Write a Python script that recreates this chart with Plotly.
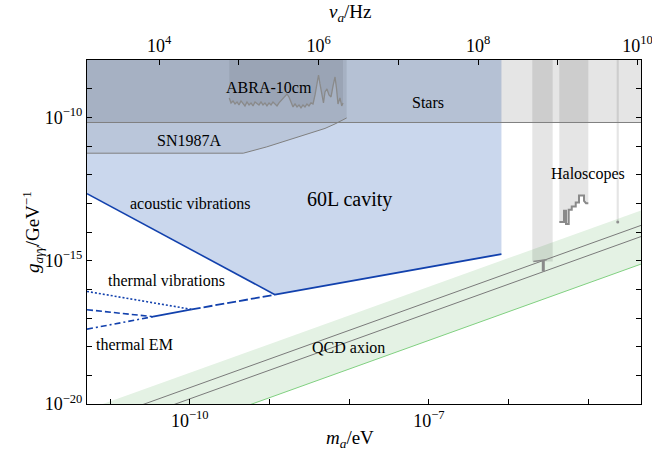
import plotly.graph_objects as go

FONT = "Liberation Serif"

# ---------------- axes (log10 units) ----------------
x_range_log = [-11.29, -4.339]          # m_a / eV
y_range_log = [-20.0, -8.0]             # g / GeV^-1
hz_per_ev_log = 14.3834                 # log10(2.418e14 Hz/eV)

x_tick_exps = [-11, -10, -9, -8, -7, -6, -5]
x_tick_text = ["", "10<sup>−10</sup>", "", "", "10<sup>−7</sup>", "", ""]
top_tick_exps = [4, 5, 6, 7, 8, 9, 10]
top_tick_text = ["10<sup>4</sup>", "", "10<sup>6</sup>", "", "10<sup>8</sup>", "", "10<sup>10</sup>"]
y_tick_exps = [-20, -19, -18, -17, -16, -15, -14, -13, -12, -11, -10, -9, -8]
y_tick_text = ["10<sup>−20</sup>", "", "", "", "", "10<sup>−15</sup>", "", "", "", "", "10<sup>−10</sup>", "", ""]

# ---------------- data (log10 m_a [eV], log10 g [GeV^-1]) ----------------
stars_log_g = -10.18

sn_log_m = [-11.29, -9.329, -9.035, -8.743, -8.492, -8.304, -8.178, -8.032]
sn_log_g = [-11.251, -11.251, -11.031, -10.770, -10.544, -10.387, -10.230, -10.021]

abra_log_m = [-9.505, -9.483, -9.458, -9.433, -9.408, -9.383, -9.358, -9.333, -9.308, -9.283,
              -9.257, -9.232, -9.207, -9.182, -9.157, -9.132, -9.107, -9.082, -9.057, -9.032,
              -9.006, -8.981, -8.956, -8.931, -8.906, -8.881, -8.856, -8.831, -8.806, -8.781,
              -8.756, -8.730, -8.705, -8.680, -8.655, -8.630, -8.605, -8.580, -8.555, -8.530,
              -8.505, -8.480, -8.454, -8.429, -8.404, -8.385, -8.367, -8.341, -8.323, -8.304,
              -8.279, -8.254, -8.228, -8.203, -8.178, -8.160, -8.141, -8.116, -8.094, -8.078]
abra_log_g = [-9.324, -9.498, -9.429, -9.533, -9.463, -9.568, -9.429, -9.533, -9.603, -9.463,
              -9.568, -9.498, -9.603, -9.463, -9.533, -9.568, -9.463, -9.568, -9.498, -9.603,
              -9.498, -9.568, -9.463, -9.533, -9.603, -9.498, -9.429, -9.359, -9.254, -9.185,
              -9.289, -9.498, -9.638, -9.533, -9.638, -9.568, -9.672, -9.568, -9.638, -9.533,
              -9.603, -9.498, -9.533, -9.220, -8.767, -8.523, -8.836, -9.324, -9.498, -9.115,
              -9.010, -9.220, -9.289, -8.906, -8.592, -8.976, -9.533, -9.324, -9.603, -9.498]

# 60L cavity sensitivity
cavity_log_m = [-11.29, -8.931, -6.09]
cavity_log_g = [-12.662, -16.188, -14.77]

acoustic_log_m = [-11.29, -8.931]
acoustic_log_g = [-12.662, -16.188]
readout_log_m = [-8.931, -6.09]
readout_log_g = [-16.188, -14.77]
thermal_vib_log_m = [-11.29, -9.976]
thermal_vib_log_g = [-16.073, -16.70]
thermal_em_log_m = [-11.29, -10.462]
thermal_em_log_g = [-16.711, -16.954]
low_dashdot_log_m = [-11.29, -10.462]
low_dashdot_log_g = [-17.39, -16.954]
mid_solid_log_m = [-10.462, -9.976]
mid_solid_log_g = [-16.954, -16.70]
mid_dash_log_m = [-9.976, -8.931]
mid_dash_log_g = [-16.70, -16.188]

# QCD axion band and model lines (endpoints)
qcd_log_m = [-11.29, -4.339]
qcd_top_log_g = [-20.20, -13.249]
qcd_ksvz_log_g = [-20.72, -13.769]
qcd_dfsz_log_g = [-21.11, -14.159]
qcd_bottom_log_g = [-22.07, -15.119]

# Haloscopes
halo1_log_m = [-5.703, -5.447]
halo1_floor_log_g = -15.03
halo1_edge_log_m = [-5.69, -5.522]
halo1_edge_log_g = [-15.03, -14.97]
halo1_tick_log_m = -5.565
halo1_tick_log_g = [-14.97, -15.38]
halo2_log_m = [-5.364, -5.305, -5.305, -5.280, -5.280, -5.246, -5.246, -5.208, -5.208,
               -5.158, -5.158, -5.117, -5.117, -5.054, -5.054, -5.029, -5.000]
halo2_log_g = [-13.655, -13.655, -13.261, -13.261, -13.725, -13.725, -13.226, -13.226, -13.111,
               -13.111, -12.972, -12.972, -12.728, -12.728, -12.913, -12.993, -12.993]
halo3_log_m = -4.631
halo3_floor_log_g = -13.655


def lin(v):
    return [10 ** e for e in v]


top_g = y_range_log[1]
xl, xr = x_range_log

fig = go.Figure()


def poly(xs, ys, color):
    fig.add_trace(go.Scatter(x=lin(xs), y=lin(ys), fill="toself", fillcolor=color,
                             mode="lines", line=dict(width=0), hoverinfo="skip", showlegend=False))


def line(xs, ys, color, width=1.0, dash="solid"):
    fig.add_trace(go.Scatter(x=lin(xs), y=lin(ys), mode="lines",
                             line=dict(color=color, width=width, dash=dash),
                             hoverinfo="skip", showlegend=False))


# QCD band
poly(qcd_log_m + qcd_log_m[::-1], qcd_top_log_g + qcd_bottom_log_g[::-1], "#e4f2e4")

# cavity region
poly(cavity_log_m + [cavity_log_m[-1], cavity_log_m[0]],
     cavity_log_g + [top_g, top_g], "#cad7ed")

# haloscope bands
poly([halo1_log_m[0], halo1_log_m[1], halo1_log_m[1], halo1_log_m[0]],
     [halo1_floor_log_g, halo1_floor_log_g, top_g, top_g], "rgba(0,0,0,0.10)")
poly(halo2_log_m + [halo2_log_m[-1], halo2_log_m[0]],
     halo2_log_g + [top_g, top_g], "rgba(0,0,0,0.10)")
line([halo3_log_m, halo3_log_m], [halo3_floor_log_g, top_g], "rgba(0,0,0,0.10)", 2.2)

# stars
poly([xl, xr, xr, xl], [stars_log_g, stars_log_g, top_g, top_g], "rgba(0,0,0,0.10)")
# SN1987A
poly(sn_log_m + [sn_log_m[-1], sn_log_m[0]], sn_log_g + [top_g, top_g], "rgba(0,0,0,0.08)")
# ABRA-10cm
poly(abra_log_m + [abra_log_m[-1], abra_log_m[0]], abra_log_g + [top_g, top_g], "rgba(0,0,0,0.07)")

# boundary lines
line([xl, xr], [stars_log_g, stars_log_g], "#808080", 1.0)
line(sn_log_m, sn_log_g, "#808080", 1.0)
line(abra_log_m, abra_log_g, "#8a8a8a", 1.3)

line(qcd_log_m, qcd_ksvz_log_g, "#7a7a7a", 1.0)
line(qcd_log_m, qcd_dfsz_log_g, "#7a7a7a", 1.0)
line(qcd_log_m, qcd_bottom_log_g, "#80d080", 1.0)

line(halo1_edge_log_m, halo1_edge_log_g, "#8a8a8a", 1.5)
line([halo1_tick_log_m, halo1_tick_log_m], halo1_tick_log_g, "#8a8a8a", 3.0)
line(halo2_log_m, halo2_log_g, "#8a8a8a", 2.0)
fig.add_trace(go.Scatter(x=[10 ** halo3_log_m], y=[10 ** halo3_floor_log_g], mode="markers",
                         marker=dict(color="#909090", size=3), hoverinfo="skip", showlegend=False))

# cavity noise curves
BLUE = "#1241ad"
line(acoustic_log_m, acoustic_log_g, BLUE, 1.6)
line(readout_log_m, readout_log_g, BLUE, 1.8)
line(thermal_vib_log_m, thermal_vib_log_g, BLUE, 1.6, "2px,2px")
line(thermal_em_log_m, thermal_em_log_g, BLUE, 1.6, "6px,3px")
line(low_dashdot_log_m, low_dashdot_log_g, BLUE, 1.6, "6px,3px,2px,3px")
line(mid_solid_log_m, mid_solid_log_g, BLUE, 1.8)
line(mid_dash_log_m, mid_dash_log_g, BLUE, 1.8, "9px,3px")

# invisible trace to activate the top (frequency) axis
fig.add_trace(go.Scatter(x=[1e5], y=[1e-30], xaxis="x2", mode="markers",
                         marker=dict(opacity=0), hoverinfo="skip", showlegend=False))

# ---------------- layout ----------------
W, H = 652, 456
L, R, T, B = 87, 11, 60, 52
tickfont = dict(family=FONT, size=18, color="black")
axis_common = dict(type="log", ticks="inside", ticklen=5, tickwidth=1, tickcolor="black",
                   showline=True, linecolor="black", linewidth=1, showgrid=False,
                   zeroline=False, tickfont=tickfont, automargin=False,
                   ticklabeloverflow="allow")

fig.update_layout(
    width=W, height=H,
    margin=dict(l=L, r=R, t=T, b=B, autoexpand=False),
    paper_bgcolor="white", plot_bgcolor="white",
    showlegend=False,
    xaxis=dict(range=x_range_log, tickvals=lin(x_tick_exps), ticktext=x_tick_text,
               mirror=True, **axis_common),
    xaxis2=dict(range=[v + hz_per_ev_log for v in x_range_log], tickvals=lin(top_tick_exps),
                ticktext=top_tick_text, overlaying="x", side="top", anchor="y", **axis_common),
    yaxis=dict(range=y_range_log, tickvals=lin(y_tick_exps), ticktext=y_tick_text,
               mirror="ticks", **axis_common),
)


def px2paper(px, py):
    return (px - L) / (W - L - R), (H - B - py) / (H - T - B)


labels = [
    ("ABRA-10cm", 269, 87, 16),
    ("Stars", 428, 102, 16),
    ("SN1987A", 189, 140, 16),
    ("60L cavity", 349, 200, 20),
    ("acoustic vibrations", 190, 203, 16),
    ("Haloscopes", 588, 174, 16),
    ("thermal vibrations", 166, 280, 16),
    ("thermal EM", 134, 344, 16),
    ("QCD axion", 348, 347, 16),
]
for text, px, py, size in labels:
    ax, ay = px2paper(px, py)
    fig.add_annotation(x=ax, y=ay, xref="paper", yref="paper", text=text, showarrow=False,
                       xanchor="center", yanchor="middle",
                       font=dict(family=FONT, size=size, color="black"))

titles = [
    ("<i>m</i><sub><i>a</i></sub>/eV", 350, 439, 0),
    ("<i>ν</i><sub><i>a</i></sub>/Hz", 350, 13, 0),
    ("<i>g</i><sub><i>aγγ</i></sub>/GeV<sup>−1</sup>", 32, 232, -90),
]
for text, px, py, ang in titles:
    ax, ay = px2paper(px, py)
    fig.add_annotation(x=ax, y=ay, xref="paper", yref="paper", text=text, showarrow=False,
                       xanchor="center", yanchor="middle", textangle=ang,
                       font=dict(family=FONT, size=19, color="black"))

fig.write_html("out.html", config={"displayModeBar": False},
               post_script="document.body.style.margin='0px';")
